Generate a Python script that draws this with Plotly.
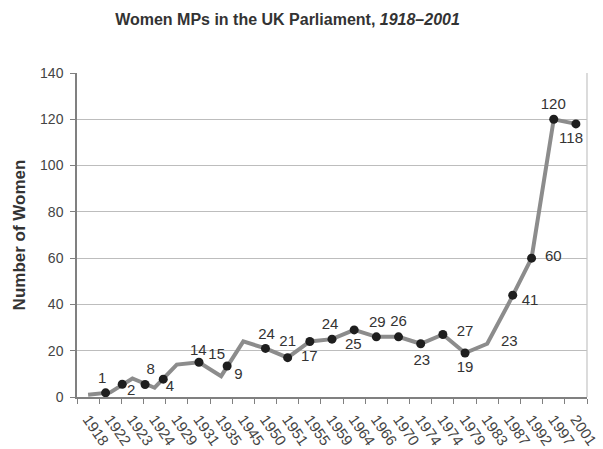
import plotly.graph_objects as go

# Election years (category labels) and number of women MPs elected
years = ["1918", "1922", "1923", "1924", "1929", "1931", "1935", "1945", "1950",
         "1951", "1955", "1959", "1964", "1966", "1970", "1974", "1974", "1979",
         "1983", "1987", "1992", "1997", "2001"]
women = [1, 2, 8, 4, 14, 15, 9, 24, 21, 17, 24, 25, 29, 26, 26, 23, 27, 19,
         23, 41, 60, 120, 118]

# Marker dots as drawn in the original (category-index positions, values)
marker_x = [0.79, 1.54, 2.57, 3.39, 5.0, 6.27, 8, 9, 10, 11, 12, 13, 14, 15,
            16, 17, 19.15, 20, 21, 22]
marker_y = [1.8, 5.5, 5.4, 7.7, 15, 13.4, 21, 17, 24, 25, 29, 26, 26, 23, 27,
            19, 44, 60, 120, 118]

# Value labels as placed in the original (category-index positions, values)
label_text = ["1", "2", "8", "4", "14", "15", "9", "24", "21", "17", "24", "25",
              "29", "26", "23", "27", "19", "23", "41", "60", "120", "118"]
label_x = [0.64, 1.94, 2.82, 3.69, 4.97, 5.8, 6.78, 8.05, 9.0, 9.98, 10.91,
           11.96, 13.04, 14.0, 15.05, 17.0, 17.0, 19.0, 19.93, 20.98, 20.98, 21.78]
label_y = [7.65, 2.3, 11.7, 4.2, 19.6, 18.1, 9.5, 26.8, 23.6, 17.2, 31.1, 22.5,
           31.8, 32.1, 15.3, 27.8, 12.4, 23.5, 41.2, 60.4, 126.2, 111.4]

y_ticks = [0, 20, 40, 60, 80, 100, 120, 140]

FONT = "Liberation Sans, Arial, Helvetica, sans-serif"
idx = list(range(len(years)))

fig = go.Figure()
fig.add_trace(go.Scatter(
    x=idx, y=women, mode="lines",
    line=dict(color="#8c8c8c", width=4), showlegend=False, hoverinfo="skip"))
fig.add_trace(go.Scatter(
    x=marker_x, y=marker_y, mode="markers",
    marker=dict(color="#1e1e1e", size=9), showlegend=False))
fig.add_trace(go.Scatter(
    x=label_x, y=label_y, mode="text", text=label_text,
    textposition="middle center",
    textfont=dict(family=FONT, size=15, color="#333333"),
    showlegend=False, hoverinfo="skip"))

fig.update_layout(
    width=603, height=449,
    margin=dict(l=77, r=16, t=73, b=52),
    paper_bgcolor="white", plot_bgcolor="white",
    font=dict(family=FONT, color="#444444"),
    title=dict(text="<b>Women MPs in the UK Parliament, <i>1918–2001</i></b>",
               x=287.5 / 603, xanchor="center", xref="container",
               y=1 - 19 / 449, yanchor="middle", yref="container",
               font=dict(family=FONT, size=16, color="#333333")),
    xaxis=dict(
        range=[-0.5, len(years) - 0.5], tickmode="array",
        tickvals=idx, ticktext=years, tickangle=55, automargin=False,
        ticks="", showgrid=False, zeroline=False,
        showline=True, linecolor="#808080", linewidth=1.5,
        tickfont=dict(family=FONT, size=15, color="#444444"),
        ticklabelstandoff=6,
        minor=dict(tick0=-0.5, dtick=1, ticks="outside", ticklen=5,
                   tickcolor="#808080", showgrid=False),
    ),
    yaxis=dict(
        range=[0, 140], tickmode="array", tickvals=y_ticks, automargin=False,
        ticks="outside", ticklen=5, tickcolor="#808080",
        showgrid=True, gridcolor="#bdbdbd", gridwidth=1.2,
        zeroline=False, showline=True, linecolor="#808080", linewidth=1.5,
        tickfont=dict(family=FONT, size=14, color="#444444"),
        ticklabelstandoff=4,
        title=dict(text="<b>Number of Women</b>", standoff=10,
                   font=dict(family=FONT, size=17, color="#333333")),
    ),
    shapes=[dict(type="line", xref="paper", yref="paper", x0=1, x1=1, y0=0, y1=1,
                 line=dict(color="#c4c4c4", width=1.2))],
)

fig.write_html("out.html")
